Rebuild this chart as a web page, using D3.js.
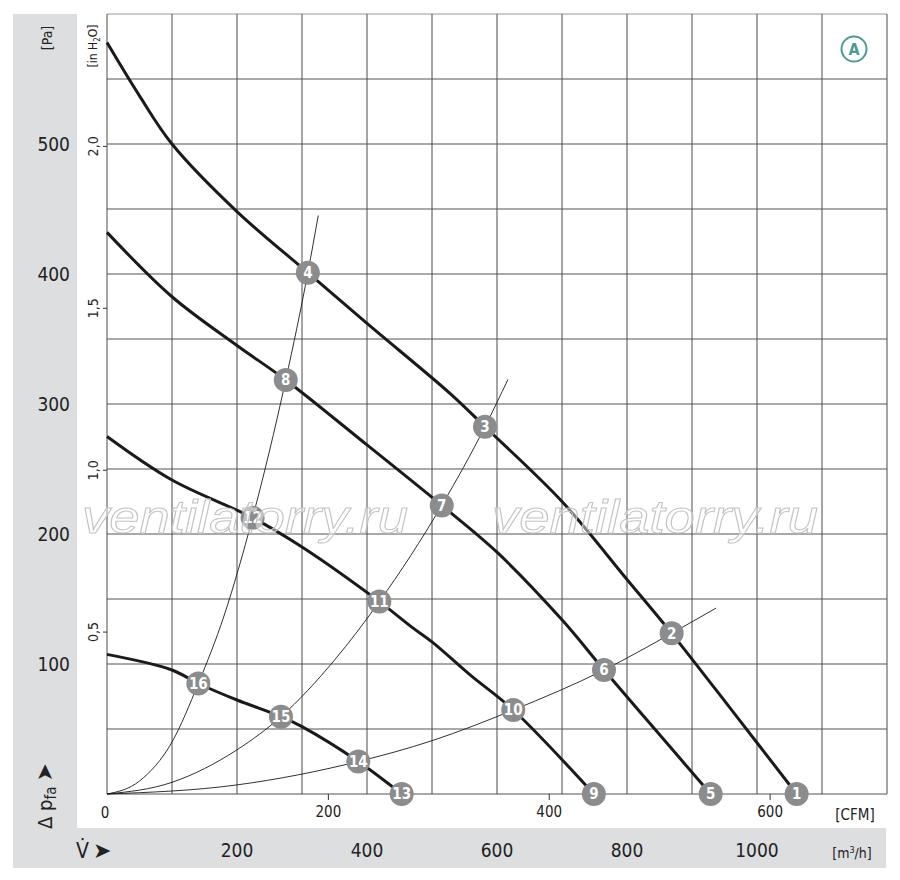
<!DOCTYPE html>
<html>
<head>
<meta charset="utf-8">
<script src="https://cdn.jsdelivr.net/npm/d3@7"></script>
<style>
  body { margin: 0; background: #fff; }
  svg { display: block; }
</style>
</head>
<body>
<div id="container"></div>
<script>
// fan curves: [m3/h, Pa]
const curveA = [[0,578],[50,537],[100,500],[200,448],[309,401],[400,362],[528,308],[581.5,282.5],[700,225],[800,165],[868.7,123.6],[965,62],[1061,0]];
const curveB = [[0,432],[100,382.5],[200,345],[275,318.5],[400,268.5],[515,222],[600,186],[700,134],[764.6,95.4],[846,48],[928.7,0]];
const curveC = [[0,275],[100,241.5],[224,212.5],[300,190],[419,148],[470,128],[500,117],[560,91],[625,64.6],[749,0]];
const curveD = [[0,107.4],[100,95.4],[140.5,85],[200,72.3],[267.7,59.5],[300,51.8],[386.6,25],[453.4,0]];
const fanCurves = [curveA, curveB, curveC, curveD];

// system resistance lines
const sys1 = [[0,0],[50,10],[100,40],[140.5,85],[180,137],[224,212.5],[275,318.5],[309,401],[325,445]];
const sys2 = [[0,0],[100,9],[200,34],[267.7,59.5],[350,103],[419,148],[515,222],[581.5,282.5],[617,319]];
const sys3 = [[0,0],[200,7],[386.6,25],[500,41],[625,64.6],[764.6,95.4],[868.7,123.6],[937,143]];
const sysCurves = [sys1, sys2, sys3];

// operating points
const pointIds = [1,2,3,4,5,6,7,8,9,10,11,12,13,14,15,16];
const pointQ = [1061,868.7,581.5,309,928.7,764.6,515,275,749,625,419,224,453.4,386.6,267.7,140.5];
const pointP = [0,123.6,282.5,401,0,95.4,222,318.5,0,64.6,148,212.5,0,25,59.5,85];

const paTicks = [100,200,300,400,500];
const inTicks = [0.5,1.0,1.5,2.0];
const cfmTicks = [200,400,600];
const m3hTicks = [200,400,600,800,1000];

const W = 900, H = 880;
const font = "'Liberation Sans Narrow','DejaVu Sans Condensed','Roboto',sans-serif";

const x = d3.scaleLinear().domain([0,1200]).range([107,887]);
const y = d3.scaleLinear().domain([0,600]).range([794,14]);
const xCfm = d3.scaleLinear().domain([0,1200/1.699]).range([107,887]);
const yIn = d3.scaleLinear().domain([0,600/249.09]).range([794,14]);

const svg = d3.select("#container").append("svg")
  .attr("width", W).attr("height", H)
  .style("font-family", font);

// gray bands
svg.append("rect").attr("x",13).attr("y",14).attr("width",64).attr("height",854).attr("fill","#dddee0");
svg.append("rect").attr("x",13).attr("y",828).attr("width",873).attr("height",40).attr("fill","#dddee0");

// grid
svg.append("g")
  .selectAll("line").data(d3.range(0,601,50)).enter().append("line")
  .attr("x1",x(0)).attr("x2",x(1200))
  .attr("y1",d=>y(d)).attr("y2",d=>y(d))
  .attr("stroke", d => d===600 ? "#bbb" : "#8c8c8c")
  .attr("stroke-width",1.6);

svg.append("g")
  .selectAll("line").data(d3.range(0,1201,100)).enter().append("line")
  .attr("x1",d=>x(d)).attr("x2",d=>x(d))
  .attr("y1",y(600)).attr("y2",y(0))
  .attr("stroke","#4a4a4a")
  .attr("stroke-width",1);

// system lines
const line = d3.line()
  .x(d => x(d[0]))
  .y(d => y(d[1]))
  .curve(d3.curveMonotoneX);

svg.append("g").selectAll("path").data(sysCurves).enter().append("path")
  .attr("fill","none").attr("stroke","#1a1a1a").attr("stroke-width",0.9)
  .attr("d", line);

// fan curves
const fanLine = d3.line()
  .x(d => x(d[0]))
  .y(d => y(d[1]))
  .curve(d3.curveCatmullRom.alpha(0.5));

svg.append("g").selectAll("path").data(fanCurves).enter().append("path")
  .attr("fill","none").attr("stroke","#1a1a1a").attr("stroke-width",3)
  .attr("stroke-linejoin","round")
  .attr("d", fanLine);

// markers
const pts = pointIds.map((n,i) => ({n, q: pointQ[i], p: pointP[i]}));
const mk = svg.append("g").selectAll("g").data(pts).enter().append("g")
  .attr("transform", d => `translate(${x(d.q)},${y(d.p)})`);
mk.append("circle").attr("r",12).attr("fill","#8b8c8e");
mk.append("text")
  .attr("text-anchor","middle").attr("dy","0.36em")
  .attr("fill","#fff").style("font-weight","bold").style("font-size","15px")
  .text(d => d.n);

// left axes: Pa
svg.append("g").selectAll("text").data(paTicks).enter().append("text")
  .attr("x",70).attr("y",d=>y(d)).attr("dy","0.35em")
  .attr("text-anchor","end").style("font-size","19px").attr("fill","#222")
  .text(d=>d);

svg.append("text")
  .attr("transform","translate(52,38) rotate(-90)")
  .attr("text-anchor","middle").style("font-size","14px").attr("fill","#222")
  .text("[Pa]");

// inH2O
svg.append("g").selectAll("line").data(inTicks).enter().append("line")
  .attr("x1",103).attr("x2",107).attr("y1",d=>yIn(d)).attr("y2",d=>yIn(d))
  .attr("stroke","#333");
svg.append("g").selectAll("text").data(inTicks).enter().append("text")
  .attr("transform", d => `translate(98,${yIn(d)}) rotate(-90)`)
  .attr("text-anchor","middle").style("font-size","14px").attr("fill","#222")
  .text(d => d.toFixed(1).replace(".",","));

const inLbl = svg.append("text")
  .attr("transform","translate(97,46) rotate(-90)")
  .attr("text-anchor","middle").style("font-size","12px").attr("fill","#222");
inLbl.append("tspan").text("[in H");
inLbl.append("tspan").attr("dy",3).style("font-size","8px").text("2");
inLbl.append("tspan").attr("dy",-3).text("O]");

// Δ p_fa label
const dp = svg.append("text")
  .attr("transform","translate(52,796) rotate(-90)")
  .attr("text-anchor","middle").style("font-size","20px").attr("fill","#222");
dp.append("tspan").text("Δ p");
dp.append("tspan").attr("dy",4).style("font-size","15px").text("fa");
dp.append("tspan").attr("dy",-4).attr("dx",5).style("font-family","'DejaVu Sans'").style("font-size","22px").text("➤");

// CFM axis
svg.append("g")
  .attr("transform",`translate(0,${y(0)})`)
  .call(d3.axisBottom(xCfm).tickValues(cfmTicks).tickSize(6).tickPadding(6))
  .call(g => g.select(".domain").remove())
  .call(g => g.selectAll(".tick line").attr("stroke","#333"))
  .call(g => g.selectAll(".tick text").style("font-size","15px").style("font-family",font).attr("fill","#222"));

svg.append("text").attr("x",105).attr("y",818).attr("text-anchor","middle")
  .style("font-size","15px").attr("fill","#222").text("0");
svg.append("text").attr("x",855).attr("y",820).attr("text-anchor","middle")
  .style("font-size","15px").attr("fill","#222").text("[CFM]");

// m3/h axis
svg.append("g").selectAll("text").data(m3hTicks).enter().append("text")
  .attr("x",d=>x(d)).attr("y",857).attr("text-anchor","middle")
  .style("font-size","19px").attr("fill","#222")
  .text(d=>d);

const m3 = svg.append("text").attr("x",852).attr("y",858).attr("text-anchor","middle")
  .style("font-size","14px").attr("fill","#222");
m3.append("tspan").text("[m");
m3.append("tspan").attr("dy",-5).style("font-size","9px").text("3");
m3.append("tspan").attr("dy",5).text("/h]");

const vl = svg.append("text").attr("x",76).attr("y",858)
  .style("font-size","21px").attr("fill","#222");
vl.append("tspan").text("V̇");
vl.append("tspan").attr("dx",4).style("font-family","'DejaVu Sans'").style("font-size","22px").text("➤");

// "A" badge
svg.append("circle").attr("cx",854).attr("cy",49).attr("r",12.5)
  .attr("fill","none").attr("stroke","#4e9a94").attr("stroke-width",2);
svg.append("text").attr("x",854).attr("y",49).attr("dy","0.36em")
  .attr("text-anchor","middle").style("font-size","16px").style("font-weight","bold")
  .attr("fill","#4e9a94").text("A");

// watermark
svg.append("g").selectAll("text").data([245,655]).enter().append("text")
  .attr("x",d=>d).attr("y",533).attr("text-anchor","middle")
  .attr("textLength",326).attr("lengthAdjust","spacingAndGlyphs")
  .style("font-size","46px").style("font-style","italic").style("font-family","'Liberation Sans',sans-serif")
  .attr("fill","rgba(255,255,255,0.45)").attr("stroke","#c4c4c4").attr("stroke-width",1)
  .text("ventilatorry.ru");
</script>
</body>
</html>
